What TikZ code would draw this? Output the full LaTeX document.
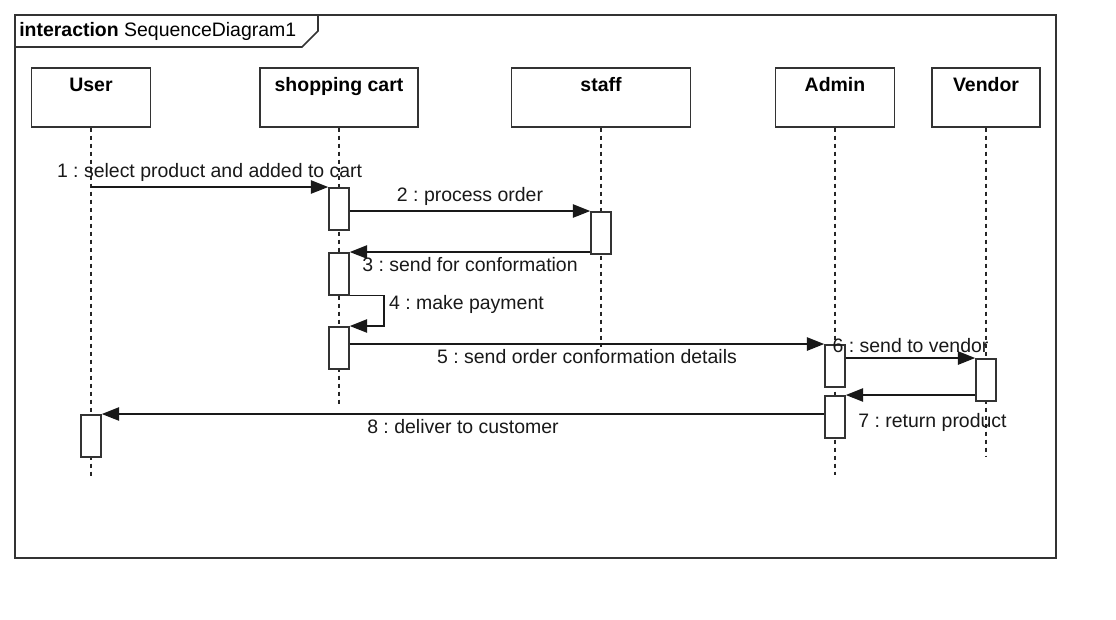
\documentclass[tikz,border=0pt]{standalone}
\usepackage{fontspec}
\setmainfont{Liberation Sans}
\usetikzlibrary{arrows.meta}
\frenchspacing

\begin{document}
\begin{tikzpicture}[
  x=0.75pt,y=-0.75pt,
  every node/.style={font=\fontsize{14.6}{17}\selectfont},
  frame/.style={draw=black!80,line width=1.3pt},
  head/.style={draw=black!80,fill=white,line width=1.2pt,anchor=north,inner xsep=0pt,inner ysep=4pt,minimum height=0pt,text height=14pt,text depth=22.25pt,font=\fontsize{14.6}{17}\selectfont\bfseries},
  act/.style={draw=black!80,fill=white,line width=1.2pt,anchor=north,inner sep=0pt,minimum width=15pt,minimum height=31.5pt},
  life/.style={black!85,line width=1pt,dash pattern=on 3pt off 3pt},
  msg/.style={-{Triangle[length=13pt,width=10pt]},line width=1.2pt,black!90}
]
\fill[white] (0,0) rectangle (1116,619);

% frame and its name tab
\draw[frame] (15,15) rectangle (1056,558);
\draw[frame] (15,47) -- (302,47) -- (318,31) -- (318,15);
\node[anchor=base west,inner sep=0pt] (title) at (19,36) {\textbf{interaction} SequenceDiagram1};

\node[head,minimum width=89.25pt] (user) at (91,67) {User};
\node[head,minimum width=118.5pt] (cart) at (339,67) {shopping cart};
\node[head,minimum width=134.25pt] (staff) at (601,67) {staff};
\node[head,minimum width=89.25pt] (admin) at (835,67) {Admin};
\node[head,minimum width=81pt] (vendor) at (986,67) {Vendor};

\draw[life] (user.south) -- ++(0,349);
\draw[life] (cart.south) -- ++(0,276);
\draw[life] (staff.south) -- ++(0,219);
\draw[life] (admin.south) -- ++(0,347);
\draw[life] (vendor.south) -- ++(0,329);

% activations
\node[act] (cart1) at (339,187) {};
\node[act] (staff1) at (601,211) {};
\node[act] (cart2) at (339,252) {};
\node[act] (cart3) at (339,326) {};
\node[act] (admin1) at (835,344) {};
\node[act] (vendor1) at (986,358) {};
\node[act] (admin2) at (835,395) {};
\node[act] (user1) at (91,414) {};

\draw[msg] (user.south |- cart1.north) -- node[above]{1 : select product and added to cart} (cart1.north west);
\draw[msg] (cart1.east |- staff1.north) -- node[above]{2 : process order} (staff1.north west);
\draw[msg] (staff1.west |- cart2.north) -- node[below]{3 : send for conformation} (cart2.north east);
\draw[msg] (cart2.south east) -- ++(34,0) |- node[pos=0.15,anchor=west]{4 : make payment} (cart3.north east);
\draw[msg] (cart3.east |- admin1.north) -- node[below]{5 : send order conformation details} (admin1.north west);
\draw[msg] (admin1.east |- vendor1.north) -- node[above]{6 : send to vendor} (vendor1.north west);
\draw[msg] (vendor1.west |- admin2.north) -- node[below,xshift=16.5pt,yshift=-9.5pt]{7 : return product} (admin2.north east);
\draw[msg] (admin2.west |- user1.north) -- node[below]{8 : deliver to customer} (user1.north east);
\end{tikzpicture}
\end{document}
